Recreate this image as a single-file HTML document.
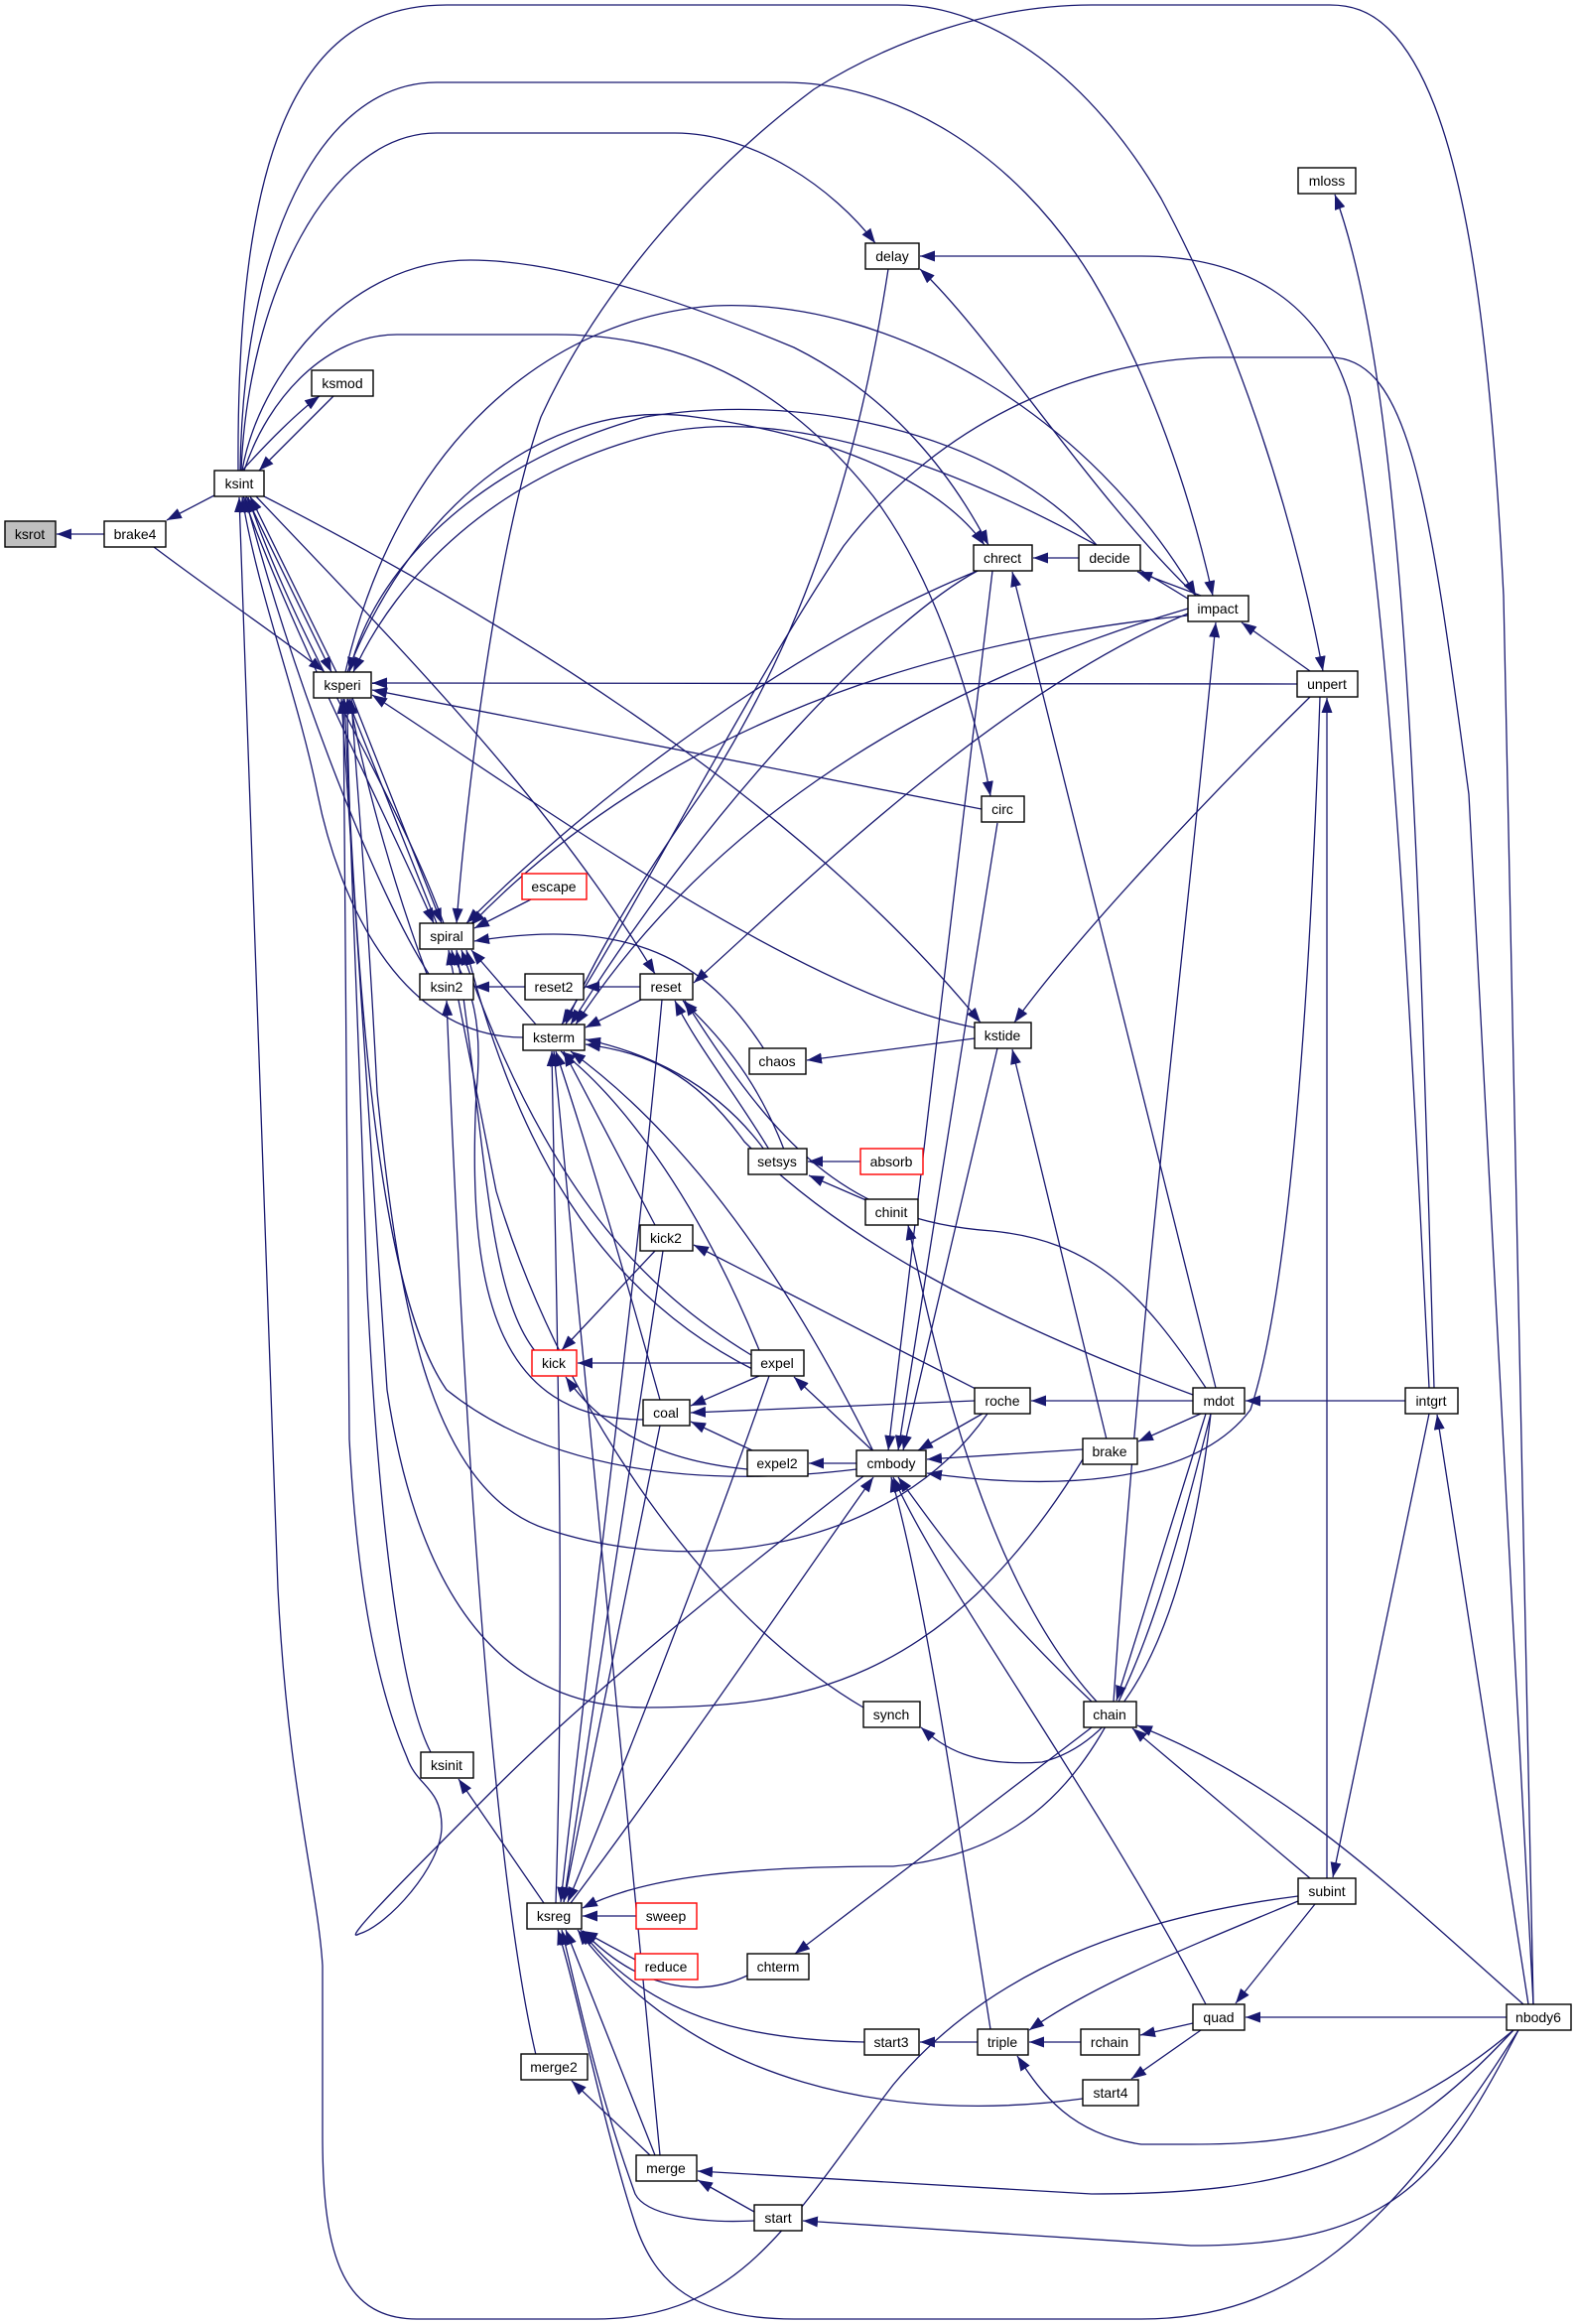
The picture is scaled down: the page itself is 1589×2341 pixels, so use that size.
<!DOCTYPE html>
<html><head><meta charset="utf-8"><style>
html,body{margin:0;padding:0;background:#fff}
svg{display:block}
text{font-family:"Liberation Sans",sans-serif;font-size:14px;fill:#000}
</style></head><body>
<svg width="1589" height="2341" viewBox="0 0 1589 2341" xmlns="http://www.w3.org/2000/svg">
<defs><marker id="a" markerUnits="userSpaceOnUse" markerWidth="15" markerHeight="11" viewBox="0 0 15 11" refX="15" refY="5.5" orient="auto"><path d="M0,0 L15,5.5 L0,11z" fill="#191970"/></marker></defs>
<g fill="none" stroke="#191970" stroke-width="1.3" marker-end="url(#a)">
<path d="M105,538 L57,538"/>
<path d="M216,499 L168,524"/>
<path d="M155,551 C220,600 280,640 326,676"/>
<path d="M244,474 C270,445 300,415 322,399"/>
<path d="M336,399 C310,425 285,450 261,474"/>
<path d="M248,500 L334,677"/>
<path d="M339,677 L252,500"/>
<path d="M240,474 C238,150 300,5 450,5 L905,5 C1000,5 1100,80 1170,200 C1240,330 1300,500 1333,676"/>
<path d="M242,474 C245,250 320,83 440,83 L790,83 C900,83 1020,150 1100,280 C1160,380 1200,500 1222,600"/>
<path d="M243,474 C250,300 330,134 440,134 L680,134 C760,134 840,190 882,245"/>
<path d="M244,474 C260,380 350,262 474,262 C560,262 680,300 800,350 C900,400 960,480 996,549"/>
<path d="M246,474 C270,400 330,337 400,337 L560,337 C700,337 800,400 880,500 C940,580 980,700 998,802"/>
<path d="M266,500 C500,620 800,800 988,1030"/>
<path d="M258,500 C400,650 550,800 660,981"/>
<path d="M245,500 C300,650 380,800 437,930"/>
<path d="M447,930 C400,800 300,650 250,501"/>
<path d="M432,981 C380,900 300,700 247,501"/>
<path d="M527,1045 C400,1045 340,900 320,800 C300,700 260,600 244,501"/>
<path d="M1308,1910 C1150,1930 1000,1980 900,2100 C800,2230 750,2336 600,2336 L420,2336 C340,2336 325,2260 325,2150 L325,1980 C320,1900 290,1800 280,1600 L241,501"/>
<path d="M870,1487 C750,1580 600,1700 500,1800 C420,1880 340,1960 362,1948 C390,1940 445,1880 445,1840 C445,1800 420,1800 410,1770 C380,1700 360,1600 352,1450 L346,704"/>
<path d="M434,1765 C400,1700 380,1500 370,1300 C360,1000 350,800 350,704"/>
<path d="M1307,689 L375,688"/>
<path d="M989,815 L375,695"/>
<path d="M982,1035 C800,1000 500,780 375,700"/>
<path d="M440,930 L350,704"/>
<path d="M355,703 L445,930"/>
<path d="M430,981 C400,900 370,800 352,704"/>
<path d="M863,1480 C700,1500 550,1480 450,1400 C380,1300 360,1000 347,704"/>
<path d="M995,1424 C900,1560 700,1590 550,1540 C430,1500 400,1300 380,1100 C370,900 360,800 354,704"/>
<path d="M1091,1470 C950,1700 800,1720 650,1720 C500,1720 420,1600 390,1400 L344,704"/>
<path d="M348,677 C400,450 550,320 720,308 C900,300 1100,420 1205,600"/>
<path d="M350,677 C420,500 560,400 700,420 C850,440 950,490 992,549"/>
<path d="M1105,549 C1000,430 800,395 650,420 C500,460 380,560 352,677"/>
<path d="M1200,605 C1000,480 800,400 650,440 C500,480 400,580 356,677"/>
<path d="M535,906 L478,935"/>
<path d="M770,1057 C720,980 650,920 478,948"/>
<path d="M1545,2019 L1515,600 C1500,300 1470,100 1400,30 C1380,10 1360,5 1340,5 L1100,5 C1000,5 900,40 820,90 C700,180 600,300 545,420 C500,550 470,800 460,930"/>
<path d="M985,575 C800,650 600,800 470,930"/>
<path d="M1197,620 C900,650 650,750 474,932"/>
<path d="M540,1032 L475,957"/>
<path d="M540,1362 C490,1300 490,1150 460,957"/>
<path d="M757,1365 C650,1300 550,1200 465,957"/>
<path d="M760,1380 C600,1300 520,1150 470,957"/>
<path d="M648,1430 C500,1430 470,1300 480,1100 C490,1000 460,980 455,957"/>
<path d="M870,1720 C700,1620 560,1400 500,1200 C480,1100 460,1000 452,957"/>
<path d="M529,994 L478,994"/>
<path d="M540,2070 C500,1900 470,1500 450,1008"/>
<path d="M645,994 L589,994"/>
<path d="M650,1005 L590,1035"/>
<path d="M895,271 C860,500 800,650 720,780 C650,880 600,960 570,1032"/>
<path d="M985,575 C900,620 720,800 575,1032"/>
<path d="M1197,613 C900,700 700,850 580,1032"/>
<path d="M1545,2019 L1480,800 C1440,500 1420,360 1340,360 L1230,360 C1100,360 950,420 850,550 C750,700 650,900 566,1032"/>
<path d="M770,1158 C720,1090 650,1060 590,1047"/>
<path d="M1202,1405 C1000,1330 850,1250 750,1150 C700,1080 650,1060 590,1052"/>
<path d="M660,1234 L568,1059"/>
<path d="M765,1360 C700,1200 620,1100 565,1059"/>
<path d="M665,1410 C620,1250 590,1150 560,1059"/>
<path d="M880,1462 C800,1300 700,1150 575,1059"/>
<path d="M560,1917 C570,1600 560,1300 556,1059"/>
<path d="M665,2171 C620,1700 580,1300 558,1059"/>
<path d="M1197,618 C1000,700 800,900 699,990"/>
<path d="M1215,1398 C1150,1300 1100,1250 1000,1240 C850,1230 780,1150 690,1008"/>
<path d="M775,1158 C740,1100 700,1050 680,1008"/>
<path d="M790,1158 C760,1080 720,1040 688,1008"/>
<path d="M1205,600 C1100,500 1000,340 927,271"/>
<path d="M1440,1398 C1420,1000 1400,600 1360,400 C1330,300 1250,258 1150,258 L927,258"/>
<path d="M1445,1398 C1430,900 1420,400 1345,196"/>
<path d="M1087,562 L1041,562"/>
<path d="M1225,1398 L1020,576"/>
<path d="M1210,600 L1146,576"/>
<path d="M1320,676 L1251,627"/>
<path d="M1122,1714 C1150,1300 1200,900 1225,627"/>
<path d="M1337,1892 L1337,703"/>
<path d="M1320,702 C1200,820 1080,950 1022,1030"/>
<path d="M1005,829 L905,1461"/>
<path d="M1115,1450 L1020,1057"/>
<path d="M1005,1056 L910,1461"/>
<path d="M1000,575 L895,1461"/>
<path d="M982,1046 L813,1068"/>
<path d="M867,1170 L814,1170"/>
<path d="M875,1210 L815,1184"/>
<path d="M1105,1714 C1000,1600 950,1400 915,1234"/>
<path d="M985,1400 L699,1254"/>
<path d="M660,1260 L566,1360"/>
<path d="M757,1373 L582,1373"/>
<path d="M753,1480 C650,1470 600,1430 570,1387"/>
<path d="M880,1462 L800,1387"/>
<path d="M765,1386 L696,1416"/>
<path d="M760,1462 L696,1432"/>
<path d="M982,1411 L696,1423"/>
<path d="M863,1474 L815,1474"/>
<path d="M990,1424 L925,1461"/>
<path d="M1091,1460 L934,1470"/>
<path d="M1330,702 C1320,1000 1300,1300 1260,1420 C1200,1500 1050,1500 934,1484"/>
<path d="M1100,1714 C1000,1620 950,1550 905,1488"/>
<path d="M1215,2019 C1100,1800 950,1600 900,1488"/>
<path d="M998,2044 C960,1800 930,1600 898,1488"/>
<path d="M575,1917 C700,1750 800,1600 880,1488"/>
<path d="M1202,1411 L1039,1411"/>
<path d="M1210,1424 L1147,1452"/>
<path d="M1416,1411 L1255,1411"/>
<path d="M1540,2019 L1448,1425"/>
<path d="M1440,1424 L1343,1891"/>
<path d="M1220,1424 C1200,1600 1150,1750 1050,1775 C980,1780 950,1760 928,1740"/>
<path d="M1320,1892 L1141,1741"/>
<path d="M1535,2019 C1400,1900 1300,1800 1146,1738"/>
<path d="M1215,1424 L1125,1713"/>
<path d="M1100,1740 L801,1968"/>
<path d="M641,1930 L587,1930"/>
<path d="M642,1975 L587,1945"/>
<path d="M753,1990 C700,2015 640,2000 587,1945"/>
<path d="M871,2057 C750,2055 650,2030 585,1944"/>
<path d="M1091,2114 C900,2140 700,2100 582,1944"/>
<path d="M660,2171 L570,1944"/>
<path d="M760,2237 C700,2240 650,2230 640,2210 C600,2100 580,2000 566,1944"/>
<path d="M1530,2045 C1400,2250 1300,2336 1150,2336 L800,2336 C700,2336 660,2300 640,2240 C610,2150 580,2000 562,1944"/>
<path d="M1220,1424 C1150,1700 1100,1860 900,1880 C750,1880 650,1890 587,1922"/>
<path d="M667,1007 C640,1300 600,1600 565,1916"/>
<path d="M775,1386 C700,1600 620,1800 572,1916"/>
<path d="M665,1436 L568,1916"/>
<path d="M668,1260 L568,1916"/>
<path d="M548,1917 L462,1792"/>
<path d="M655,2171 L576,2096"/>
<path d="M760,2228 L703,2196"/>
<path d="M1525,2045 C1400,2180 1300,2210 1100,2210 L703,2187"/>
<path d="M1530,2045 C1450,2200 1400,2262 1200,2262 L809,2237"/>
<path d="M1325,1918 L1245,2018"/>
<path d="M1518,2032 L1255,2032"/>
<path d="M1202,2038 L1149,2050"/>
<path d="M1089,2057 L1037,2057"/>
<path d="M1308,1915 C1200,1960 1100,2000 1037,2045"/>
<path d="M1525,2045 C1400,2150 1300,2160 1200,2160 L1150,2160 C1080,2150 1050,2110 1025,2071"/>
<path d="M985,2057 L927,2057"/>
<path d="M1210,2045 L1140,2094"/>
</g>
<g stroke-width="1.4" fill="#fff" stroke="#000">
<rect x="5" y="525" width="51" height="26" fill="#bfbfbf"/>
<rect x="105" y="525" width="62" height="26"/>
<rect x="216" y="474" width="50" height="26"/>
<rect x="314" y="373" width="62" height="26"/>
<rect x="316" y="677" width="58" height="26"/>
<rect x="423" y="930" width="54" height="26"/>
<rect x="423" y="981" width="54" height="26"/>
<rect x="526" y="880" width="65" height="26" stroke="#f00"/>
<rect x="529" y="981" width="59" height="26"/>
<rect x="527" y="1032" width="62" height="26"/>
<rect x="645" y="981" width="53" height="26"/>
<rect x="872" y="245" width="54" height="26"/>
<rect x="1308" y="169" width="58" height="26"/>
<rect x="981" y="549" width="59" height="26"/>
<rect x="1087" y="549" width="62" height="26"/>
<rect x="1197" y="600" width="61" height="26"/>
<rect x="1307" y="676" width="61" height="26"/>
<rect x="989" y="802" width="43" height="26"/>
<rect x="982" y="1030" width="57" height="26"/>
<rect x="755" y="1056" width="57" height="26"/>
<rect x="754" y="1157" width="59" height="26"/>
<rect x="867" y="1157" width="63" height="26" stroke="#f00"/>
<rect x="872" y="1208" width="53" height="26"/>
<rect x="645" y="1234" width="53" height="26"/>
<rect x="536" y="1360" width="45" height="26" stroke="#f00"/>
<rect x="757" y="1360" width="53" height="26"/>
<rect x="648" y="1410" width="47" height="26"/>
<rect x="982" y="1398" width="56" height="26"/>
<rect x="1202" y="1398" width="52" height="26"/>
<rect x="1416" y="1398" width="53" height="26"/>
<rect x="1091" y="1449" width="55" height="26"/>
<rect x="753" y="1461" width="61" height="26"/>
<rect x="863" y="1461" width="70" height="26"/>
<rect x="870" y="1714" width="57" height="26"/>
<rect x="1092" y="1714" width="53" height="26"/>
<rect x="424" y="1765" width="53" height="26"/>
<rect x="1308" y="1892" width="58" height="26"/>
<rect x="531" y="1917" width="55" height="26"/>
<rect x="641" y="1917" width="61" height="26" stroke="#f00"/>
<rect x="640" y="1968" width="63" height="26" stroke="#f00"/>
<rect x="753" y="1968" width="62" height="26"/>
<rect x="525" y="2069" width="67" height="26"/>
<rect x="1202" y="2019" width="52" height="26"/>
<rect x="1518" y="2019" width="65" height="26"/>
<rect x="871" y="2044" width="55" height="26"/>
<rect x="985" y="2044" width="51" height="26"/>
<rect x="1089" y="2044" width="59" height="26"/>
<rect x="1091" y="2095" width="56" height="26"/>
<rect x="641" y="2171" width="61" height="26"/>
<rect x="760" y="2221" width="48" height="26"/>
</g>
<g text-anchor="middle">
<text x="30" y="543">ksrot</text>
<text x="136" y="543">brake4</text>
<text x="241" y="492">ksint</text>
<text x="345" y="391">ksmod</text>
<text x="345" y="695">ksperi</text>
<text x="450" y="948">spiral</text>
<text x="450" y="999">ksin2</text>
<text x="558" y="898">escape</text>
<text x="558" y="999">reset2</text>
<text x="558" y="1050">ksterm</text>
<text x="671" y="999">reset</text>
<text x="899" y="263">delay</text>
<text x="1337" y="187">mloss</text>
<text x="1010" y="567">chrect</text>
<text x="1118" y="567">decide</text>
<text x="1227" y="618">impact</text>
<text x="1337" y="694">unpert</text>
<text x="1010" y="820">circ</text>
<text x="1010" y="1048">kstide</text>
<text x="783" y="1074">chaos</text>
<text x="783" y="1175">setsys</text>
<text x="898" y="1175">absorb</text>
<text x="898" y="1226">chinit</text>
<text x="671" y="1252">kick2</text>
<text x="558" y="1378">kick</text>
<text x="783" y="1378">expel</text>
<text x="671" y="1428">coal</text>
<text x="1010" y="1416">roche</text>
<text x="1228" y="1416">mdot</text>
<text x="1442" y="1416">intgrt</text>
<text x="1118" y="1467">brake</text>
<text x="783" y="1479">expel2</text>
<text x="898" y="1479">cmbody</text>
<text x="898" y="1732">synch</text>
<text x="1118" y="1732">chain</text>
<text x="450" y="1783">ksinit</text>
<text x="1337" y="1910">subint</text>
<text x="558" y="1935">ksreg</text>
<text x="671" y="1935">sweep</text>
<text x="671" y="1986">reduce</text>
<text x="784" y="1986">chterm</text>
<text x="558" y="2087">merge2</text>
<text x="1228" y="2037">quad</text>
<text x="1550" y="2037">nbody6</text>
<text x="898" y="2062">start3</text>
<text x="1010" y="2062">triple</text>
<text x="1118" y="2062">rchain</text>
<text x="1119" y="2113">start4</text>
<text x="671" y="2189">merge</text>
<text x="784" y="2239">start</text>
</g>
</svg>
</body></html>
